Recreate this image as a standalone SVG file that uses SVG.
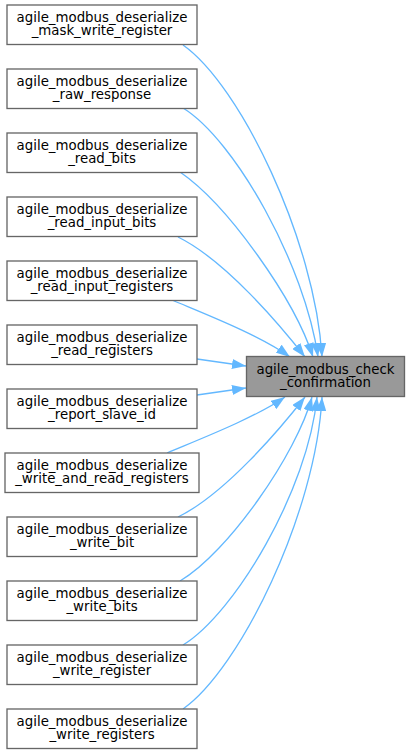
<svg xmlns="http://www.w3.org/2000/svg" width="411" height="755" viewBox="0 0 411 755">
<defs>
<style>
.n rect{fill:#ffffff;stroke:#666666;stroke-width:1.33}
.t rect{fill:#999999;stroke:#666666;stroke-width:1.33}
text{font-family:"DejaVu Sans","Liberation Sans",sans-serif;font-size:13.33px;fill:#000000;text-anchor:middle}
.e path{fill:none;stroke:#63b8ff;stroke-width:1.33;marker-end:url(#ah)}
</style>
<marker id="ah" markerUnits="userSpaceOnUse" markerWidth="14" markerHeight="10" viewBox="0 0 14 10" refX="14" refY="5" orient="auto">
<path d="M0,0 L14,5 L0,10 Z" fill="#63b8ff"/>
</marker>
</defs>
<rect width="411" height="755" fill="#ffffff"/>
<g id="edges" class="e">
<path d="M183,45 C240,85 315,240 322,357"/>
<path d="M183,108 C235,140 305,265 318,357"/>
<path d="M180,172 C228,205 295,300 313,357"/>
<path d="M178,237 C225,260 280,325 305,357"/>
<path d="M172,300 C200,312 260,335 290,357"/>
<path d="M197,359 L246,366"/>
<path d="M197,395 L246,388"/>
<path d="M167,453 C195,441 255,418 285,397"/>
<path d="M178,517 C225,494 280,429 305,397"/>
<path d="M180,581 C228,553 297,453 312,397"/>
<path d="M183,645 C235,613 308,490 317,397"/>
<path d="M183,709 C240,669 316,513 322,397"/>
</g>
<g id="target" class="t"><rect x="246.5" y="356.5" width="158" height="40"/><text x="325.5" y="373.5">agile_modbus_check</text><text x="325.5" y="387">_confirmation</text></g>
<g id="n1" class="n"><rect x="7" y="5" width="190" height="39.5"/><text x="102" y="21.5">agile_modbus_deserialize</text><text x="102" y="35">_mask_write_register</text></g>
<g id="n2" class="n"><rect x="7" y="69" width="190" height="39.5"/><text x="102" y="85.5">agile_modbus_deserialize</text><text x="102" y="99">_raw_response</text></g>
<g id="n3" class="n"><rect x="7" y="133" width="190" height="39.5"/><text x="102" y="149.5">agile_modbus_deserialize</text><text x="102" y="163">_read_bits</text></g>
<g id="n4" class="n"><rect x="7" y="197" width="190" height="39.5"/><text x="102" y="213.5">agile_modbus_deserialize</text><text x="102" y="227">_read_input_bits</text></g>
<g id="n5" class="n"><rect x="7" y="261" width="190" height="39.5"/><text x="102" y="277.5">agile_modbus_deserialize</text><text x="102" y="291">_read_input_registers</text></g>
<g id="n6" class="n"><rect x="7" y="325" width="190" height="39.5"/><text x="102" y="341.5">agile_modbus_deserialize</text><text x="102" y="355">_read_registers</text></g>
<g id="n7" class="n"><rect x="7" y="389" width="190" height="39.5"/><text x="102" y="405.5">agile_modbus_deserialize</text><text x="102" y="419">_report_slave_id</text></g>
<g id="n8" class="n"><rect x="5" y="453" width="194" height="39.5"/><text x="102" y="469.5">agile_modbus_deserialize</text><text x="102" y="483">_write_and_read_registers</text></g>
<g id="n9" class="n"><rect x="7" y="517" width="190" height="39.5"/><text x="102" y="533.5">agile_modbus_deserialize</text><text x="102" y="547">_write_bit</text></g>
<g id="n10" class="n"><rect x="7" y="581" width="190" height="39.5"/><text x="102" y="597.5">agile_modbus_deserialize</text><text x="102" y="611">_write_bits</text></g>
<g id="n11" class="n"><rect x="7" y="645" width="190" height="39.5"/><text x="102" y="661.5">agile_modbus_deserialize</text><text x="102" y="675">_write_register</text></g>
<g id="n12" class="n"><rect x="7" y="709" width="190" height="39.5"/><text x="102" y="725.5">agile_modbus_deserialize</text><text x="102" y="739">_write_registers</text></g>
</svg>
